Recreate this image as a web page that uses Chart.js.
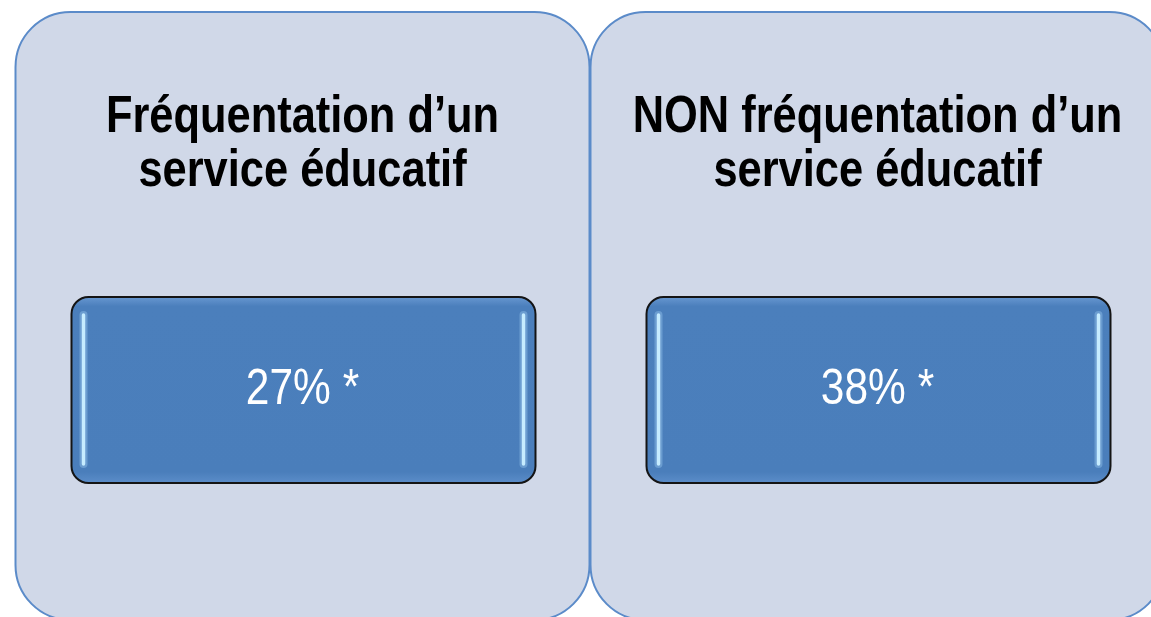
<!DOCTYPE html>
<html>
<head>
<meta charset="utf-8">
<script src="https://cdn.jsdelivr.net/npm/chart.js@4.4.0/dist/chart.umd.min.js"></script>
<style>
  html, body { margin: 0; padding: 0; background: #ffffff; overflow: hidden; }
  .wrap { position: relative; width: 1180px; height: 625px; }
</style>
</head>
<body>
<div class="wrap"><canvas class="diagram"></canvas></div>
<script>
// Diagram data
const categories = [
  ["Fréquentation d’un", "service éducatif"],
  ["NON fréquentation d’un", "service éducatif"]
];
const percentValues = [27, 38];
const valueSuffix = "% *";

// no narrow font installed, so the text gets squeezed horizontally
const baseFont = '"Liberation Sans", Arial, sans-serif';

function roundRect(ctx, x, y, w, h, r) {
  ctx.beginPath();
  ctx.moveTo(x + r, y);
  ctx.lineTo(x + w - r, y);
  ctx.arcTo(x + w, y, x + w, y + r, r);
  ctx.lineTo(x + w, y + h - r);
  ctx.arcTo(x + w, y + h, x + w - r, y + h, r);
  ctx.lineTo(x + r, y + h);
  ctx.arcTo(x, y + h, x, y + h - r, r);
  ctx.lineTo(x, y + r);
  ctx.arcTo(x, y, x + r, y, r);
  ctx.closePath();
}

function narrowText(ctx, text, x, y, squeeze) {
  ctx.save();
  ctx.translate(x, y);
  ctx.scale(squeeze, 1);
  ctx.fillText(text, 0, 0);
  ctx.restore();
}

// draws the panels, titles and value boxes from the x scale
const diagramPlugin = {
  id: "diagram",
  beforeDatasetsDraw(chart) {
    let ctx = chart.ctx;
    let area = chart.chartArea;
    let xScale = chart.scales.x;
    let half = (xScale.getPixelForValue(1) - xScale.getPixelForValue(0)) / 2;
    let values = chart.data.datasets[0].data;

    chart.data.labels.forEach(function (label, i) {
      let cx = xScale.getPixelForValue(i);
      ctx.save();

      // outer panel
      roundRect(ctx, cx - half + 0.5, area.top, half * 2 - 1, area.bottom - area.top, 55);
      ctx.fillStyle = "#d0d8e8";
      ctx.fill();
      ctx.lineWidth = 2;
      ctx.strokeStyle = "#5b8bc9";
      ctx.stroke();

      // title
      ctx.fillStyle = "#000000";
      ctx.font = "bold 52px " + baseFont;
      ctx.textAlign = "center";
      ctx.textBaseline = "alphabetic";
      label.forEach(function (line, j) {
        narrowText(ctx, line, cx, area.top + 120 + j * 54, 0.835);
      });

      // value box
      let bw = 464, bh = 186;
      let bx = cx + 1 - bw / 2;
      let by = area.top + 285;
      roundRect(ctx, bx, by, bw, bh, 17);
      let grad = ctx.createLinearGradient(0, by, 0, by + bh);
      grad.addColorStop(0, "#6797d0");
      grad.addColorStop(0.05, "#4b7fbc");
      grad.addColorStop(0.94, "#4a7ebb");
      grad.addColorStop(1, "#5b8dc9");
      ctx.fillStyle = grad;
      ctx.fill();
      ctx.lineWidth = 2;
      ctx.strokeStyle = "#141414";
      ctx.stroke();

      // glossy side highlights
      ctx.lineCap = "round";
      [bx + 12, bx + bw - 12].forEach(function (hx) {
        ctx.beginPath();
        ctx.moveTo(hx, by + 18);
        ctx.lineTo(hx, by + bh - 19);
        ctx.lineWidth = 8;
        ctx.strokeStyle = "rgba(170, 215, 250, 0.35)";
        ctx.stroke();
        ctx.lineWidth = 3.5;
        ctx.strokeStyle = "#c6ecff";
        ctx.stroke();
      });

      // value text
      ctx.fillStyle = "#ffffff";
      ctx.font = "50px " + baseFont;
      narrowText(ctx, values[i] + valueSuffix, cx, by + 107, 0.85);
      ctx.restore();
    });
  }
};

try {
  let ctx = document.querySelector(".diagram").getContext("2d");

  new Chart(ctx, {
    type: "bar",
    data: {
      labels: categories,
      datasets: [
        {
          label: "Pourcentage",
          data: percentValues,
          backgroundColor: "rgba(0, 0, 0, 0)",
          borderWidth: 0,
        },
      ],
    },
    options: {
      responsive: true,
      maintainAspectRatio: false,
      animation: false,
      layout: { padding: { left: 15, right: 15, top: 12, bottom: 5 } },
      plugins: {
        legend: { display: false },
        tooltip: { enabled: false },
      },
      scales: {
        x: { display: false, offset: true },
        y: { display: false, min: 0, max: 100 },
      },
    },
    plugins: [diagramPlugin],
  });
} catch (error) {
  console.log("while creating the chart:", error);
}
</script>
</body>
</html>
